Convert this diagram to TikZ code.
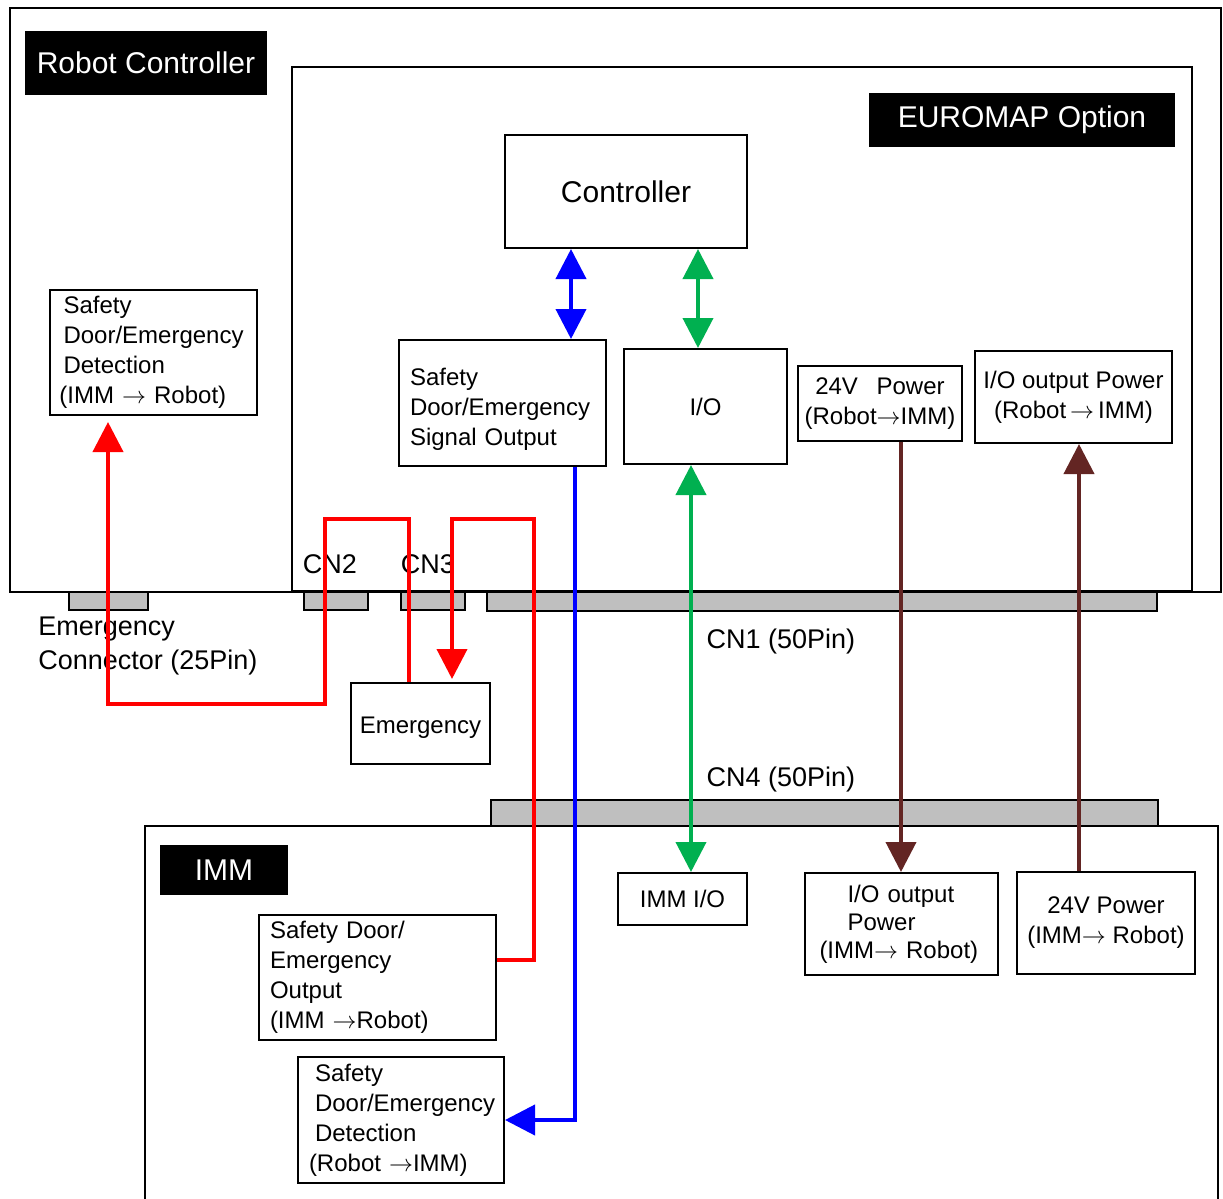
\documentclass[tikz,border=0pt]{standalone}
\usepackage{fontspec}
\setmainfont{Liberation Sans}
\usetikzlibrary{arrows.meta,calc}
\definecolor{cred}{HTML}{FF0000}
\definecolor{cblue}{HTML}{0000FF}
\definecolor{cgreen}{HTML}{00B050}
\definecolor{cbrown}{HTML}{632523}
\definecolor{cgray}{HTML}{BFBFBF}
\begin{document}
\begin{tikzpicture}[x=0.5pt,y=-0.5pt,
 rect/.style n args={4}{at={({(#1+#3)/2},{(#2+#4)/2})}, minimum width={(#3-#1)*0.5pt}, minimum height={(#4-#2)*0.5pt}},
 box/.style={draw, line width=1pt, inner sep=0pt, align=left, font=\fontsize{12pt}{15pt}\selectfont},
 cbox/.style={box, align=center},
 lbl/.style={fill=black, text=white, inner sep=0pt, font=\fontsize{15pt}{18pt}\selectfont},
 conn/.style={draw, line width=0.8pt, fill=cgray, inner sep=0pt},
 txt/.style={inner sep=0pt, font=\fontsize{13.5pt}{17pt}\selectfont, align=left},
 cont/.style={draw, line width=1.2pt, inner sep=0pt},
 wire/.style={line width=2pt},
 arr/.style={-{Triangle[width=15pt,length=15pt]}},
 darr/.style={{Triangle[width=15pt,length=15pt]}-{Triangle[width=15pt,length=15pt]}},
]
\fill[white] (0,0) rectangle (1223,1199);
\useasboundingbox (0,0) rectangle (1223,1199);

% containers
\node[cont, rect={10}{8}{1221}{592}] (rc) {};
\node[cont, line width=1.4pt, rect={292}{67}{1192}{591}] (eu) {};
\draw[line width=1.2pt] (145,1199) |- (1218,826) -- (1218,1199);

% title labels
\node[lbl, rect={25}{31}{267}{95}] (rcl) {Robot Controller};
\node[lbl, rect={869}{93}{1175}{147}] (eul) {EUROMAP Option};
\node[lbl, rect={160}{845}{288}{895}] (imml) {IMM};

% connectors
\node[conn, rect={69}{592}{148}{610}] (emc) {};
\node[conn, rect={304}{592}{368}{610}] (cn2) {};
\node[conn, rect={401}{592}{465}{610}] (cn3) {};
\node[conn, rect={487}{592}{1157}{611}] (cn1) {};
\node[conn, rect={491}{800}{1158}{826}] (cn4) {};

% connector labels
\node[txt] (cn2t) at (330,564) {CN2};
\node[txt] (cn3t) at (428,564) {CN3};
\node[txt, anchor=west] (emct) at (38,646) {Emergency\\Connector (25Pin)};
\node[txt] (cn1t) at (781,642) {CN1 (50Pin)};
\node[txt] (cn4t) at (781,780) {CN4 (50Pin)};

% robot controller boxes
\node[box, rect={50}{290}{257}{415}, text width=90pt] (det1) {Safety\\Door/Emergency\\Detection\\\hspace*{-2pt}(IMM $\rightarrow$ Robot)};
\node[cbox, rect={505}{135}{747}{248}, font=\fontsize{15pt}{18pt}\selectfont] (ctrl) {Controller};
\node[box, rect={399}{340}{606}{466}, text width=92.5pt] (sigout) {\rule{0pt}{15pt}Safety\\Door/Emergency\\Signal Output};
\node[cbox, rect={624}{349}{787}{464}] (io) {I/O};
\node[cbox, rect={798}{366}{962}{441}] (p24r) {24V\hspace{6pt} Power\\(Robot$\rightarrow$IMM)};
\node[cbox, rect={975}{351}{1172}{443}] (iopr) {I/O output Power\\(Robot$\,\rightarrow\,$IMM)};
\node[cbox, rect={351}{683}{490}{764}] (emerg) {\rule{0pt}{12pt}Emergency};

% IMM boxes
\node[box, rect={259}{915}{496}{1040}, text width=107.5pt] (sdo) {Safety Door/\\Emergency\\Output\\(IMM $\rightarrow$Robot)};
\node[box, rect={298}{1057}{504}{1183}, text width=86pt] (det2) {Safety\\Door/Emergency\\Detection\\\hspace*{-3pt}(Robot $\rightarrow$IMM)};
\node[cbox, rect={618}{873}{747}{925}] (immio) {IMM I/O};
\node[box, rect={805}{873}{998}{975}, text width=82pt, font=\fontsize{12pt}{14pt}\selectfont] (iopi) {\hspace*{14pt}I/O output\\\hspace*{14pt}Power\\(IMM$\rightarrow$ Robot)};
\node[cbox, rect={1017}{872}{1195}{974}] (p24i) {24V Power\\(IMM$\rightarrow$ Robot)};

% x / y guides for wires
\coordinate (xb1) at (571,0);
\coordinate (xg1) at (698,0);
\coordinate (xg2) at (691,0);
\coordinate (xb2) at (575,0);
\coordinate (xr1) at (409,0);
\coordinate (xr2) at (452,0);
\coordinate (xr3) at (108,0);
\coordinate (xbr1) at (901,0);
\coordinate (xbr2) at (1079,0);
\coordinate (yr2) at (0,960);

% wires
\draw[wire, cblue, darr] (ctrl.south -| xb1) -- (sigout.north -| xb1);
\draw[wire, cgreen, darr] (ctrl.south -| xg1) -- (io.north -| xg1);
\draw[wire, cgreen, darr] (io.south -| xg2) -- (immio.north -| xg2);
\draw[wire, cblue, arr] (sigout.south -| xb2) |- (det2.east);
\draw[wire, cred, arr, shorten >=3pt] (emerg.north -| xr1) -- (409,519) -- (325,519) -- (325,704) -- (108,704) -- (det1.south -| xr3);
\draw[wire, cred, arr, shorten >=1.5pt] (sdo.east |- yr2) -| (534,519) -| (emerg.north -| xr2);
\draw[wire, cbrown, arr] (p24r.south -| xbr1) -- (iopi.north -| xbr1);
\draw[wire, cbrown, arr] (p24i.north -| xbr2) -- (iopr.south -| xbr2);
\end{tikzpicture}
\end{document}
